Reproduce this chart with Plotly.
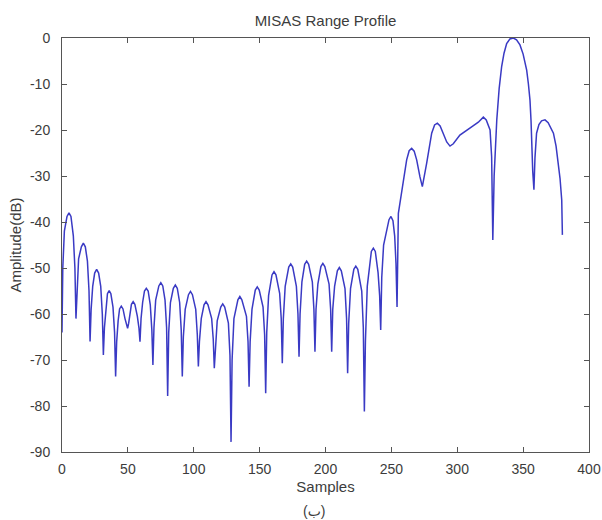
import plotly.graph_objects as go

# Range profile of the MISAS return, amplitude in dB against sample index
samples = [
    0, 0.6, 1.8, 3.8, 5.3, 6.8, 8.6, 9.8, 10.6,
    11.4, 12.6, 14.7, 16.2, 17.7, 19.3, 20.5, 21.3,
    22.1, 23.3, 24.8, 26.3, 27.8, 29.4, 30.6, 31.4,
    32.2, 33.3, 34.5, 35.8, 37.1, 38.7, 39.9, 40.7,
    41.5, 42.6, 43.7, 45, 46.3, 47.8, 49, 49.8,
    50.6, 51.8, 52.7, 54, 55.3, 57.2, 58.4, 59.2,
    60, 61.2, 62.6, 64, 65.4, 67, 68.2, 69,
    69.8, 71.1, 73.5, 75, 76.5, 78.2, 79.4, 80.2,
    81, 82.3, 84.5, 86, 87.5, 89.3, 90.5, 91.3,
    92.1, 93.5, 96, 97.5, 99, 101.5, 102.7, 103.5,
    104.3, 105.7, 107.8, 109.3, 110.8, 113.6, 114.8, 115.6,
    116.4, 117.8, 120.5, 122, 123.5, 126.3, 127.5, 128.3,
    129.1, 130.5, 133.5, 135, 136.5, 140, 141.2, 142,
    142.8, 144.2, 146.7, 148.2, 149.7, 152.6, 153.8, 154.6,
    155.4, 156.8, 159.4, 160.9, 162.4, 165.2, 166.4, 167.2,
    168, 169.4, 172.1, 173.6, 175.1, 177.9, 179.1, 179.9,
    180.7, 182.1, 184.2, 185.7, 187.2, 190, 191.2, 192,
    192.8, 194.2, 196.5, 198, 199.5, 202.7, 203.9, 204.7,
    205.5, 206.9, 209, 210.5, 212, 214.8, 216, 216.8,
    217.6, 219, 221.5, 223, 224.5, 227.5, 228.7, 229.5,
    230.3, 231.7, 234.8, 236.3, 237.8, 239.9, 241.1, 241.9,
    242.7, 244.1, 248.2, 249.7, 251.2, 252.5, 253.5, 254.3,
    255.3, 258.3, 261.6, 263.5, 265.4, 267.3, 269.2, 271.7, 273.5,
    276.8, 280.6, 282.8, 284.9, 287, 289.4, 292, 294.5,
    297, 302, 307, 312, 316, 319.8, 322, 324.9, 326.1, 326.6, 327,
    328, 330, 331.8, 333.7, 335.5, 337.5, 340, 342.6, 345, 347.6,
    350, 352.7, 354, 355.2, 356, 356.5, 357.3, 358.2,
    359, 360.2, 362, 364, 366.6, 369, 371, 373, 375, 376.7, 378, 379.3, 379.8,
]

amplitude_db = [
    -64, -50, -42, -38.8, -38, -38.8, -43, -50, -61,
    -54, -48, -45.4, -44.6, -45.4, -48.5, -55, -66,
    -59, -54, -51.1, -50.3, -51.1, -54, -60, -68.9,
    -63, -58.4, -55.6, -54.9, -55.6, -58.5, -64, -73.6,
    -66, -61.5, -58.9, -58.3, -58.9, -61, -62.5, -63.1,
    -62, -59.5, -57.9, -57.3, -57.9, -60.5, -63, -66,
    -61, -57.5, -55, -54.4, -55, -58, -63.5, -71.1,
    -63, -57, -53.9, -53.2, -53.9, -57, -63, -77.8,
    -64, -57.5, -54.4, -53.7, -54.4, -57.5, -63.5, -73.6,
    -65, -59, -55.8, -55.1, -55.8, -59, -64.5, -71.4,
    -66, -61, -58, -57.3, -58, -61, -65.5, -71.8,
    -67, -61.5, -58.5, -57.8, -58.5, -62, -69, -87.8,
    -70, -61, -56.9, -56.2, -56.9, -60.5, -66, -75.8,
    -66, -59, -54.8, -54.1, -54.8, -58.5, -64.5, -77.2,
    -64, -56, -51.5, -50.8, -51.5, -55.5, -61, -70.7,
    -61, -54, -49.8, -49.1, -49.8, -54, -60, -69.3,
    -60, -53, -49.2, -48.5, -49.2, -53, -59, -68.2,
    -59, -53.5, -49.7, -49, -49.7, -53.5, -59, -68.2,
    -59, -54, -50.6, -49.9, -50.6, -54.5, -61, -72.9,
    -62, -54.5, -50.3, -49.6, -50.3, -55, -63, -81.2,
    -66, -54, -46.4, -45.7, -46.4, -51, -56, -63.5,
    -52, -45, -39.5, -38.8, -39.7, -43, -49, -58.5,
    -38.1, -33, -26.5, -24.5, -24, -24.6, -26.5, -30.2, -32.3,
    -27.2, -20.7, -18.9, -18.5, -19.1, -20.7, -22.6, -23.5,
    -23, -21.1, -20, -19.1, -18.3, -17.2, -17.8, -20, -25.8, -33, -43.9,
    -30, -17.8, -11, -6.2, -3.3, -1.2, -0.2, 0, -0.4, -1.5,
    -3.5, -7, -10, -13.5, -18, -25, -29, -33,
    -26, -20.7, -18.8, -18, -17.8, -18.4, -19.4, -20.7, -23.5, -27.2, -30.5, -35.2, -42.8,
]

x_ticks = [0, 50, 100, 150, 200, 250, 300, 350, 400]
y_ticks = [0, -10, -20, -30, -40, -50, -60, -70, -80, -90]
y_tick_labels = ["0", "-10", "-20", "-30", "-40", "-50", "-60", "-70", "-80", "-90"]

text_font = dict(family="Liberation Sans, Arial, sans-serif", size=14, color="#3c3c3c")
title_font = dict(family="Liberation Sans, Arial, sans-serif", size=15, color="#3c3c3c")
axis_color = "#555555"

fig = go.Figure()
fig.add_trace(go.Scatter(
    x=samples,
    y=amplitude_db,
    mode="lines",
    line=dict(color="#3a3ac4", width=1.5),
    hoverinfo="skip",
    showlegend=False,
))

fig.update_layout(
    width=602,
    height=520,
    margin=dict(l=62, r=13, t=38, b=68),
    paper_bgcolor="white",
    plot_bgcolor="white",
    font=text_font,
    title=dict(
        text="MISAS Range Profile",
        x=0.5, xref="paper", xanchor="center",
        y=1 - 20.5 / 520, yref="container", yanchor="middle",
        font=title_font,
    ),
    xaxis=dict(
        range=[0, 400],
        tickvals=x_ticks,
        ticks="inside",
        ticklen=5,
        tickcolor=axis_color,
        showline=True,
        linecolor=axis_color,
        linewidth=1,
        mirror="ticks",
        showgrid=False,
        zeroline=False,
        automargin=False,
        ticklabelstandoff=4,
        title=dict(text="Samples", standoff=5, font=title_font),
        tickfont=text_font,
    ),
    yaxis=dict(
        range=[-90, 0],
        tickvals=y_ticks,
        ticktext=y_tick_labels,
        ticks="inside",
        ticklen=5,
        tickcolor=axis_color,
        showline=True,
        linecolor=axis_color,
        linewidth=1,
        mirror="ticks",
        showgrid=False,
        zeroline=False,
        automargin=False,
        ticklabelstandoff=8,
        title=dict(text="Amplitude(dB)", standoff=4, font=title_font),
        tickfont=text_font,
    ),
    annotations=[
        dict(
            text="(ب)",
            x=0.479, xref="paper", xanchor="center",
            y=-(511 - 452) / 414, yref="paper", yanchor="middle",
            showarrow=False,
            font=dict(family="Liberation Sans, DejaVu Sans, sans-serif", size=14, color="#3c3c3c"),
        )
    ],
)

fig.write_html("out.html")
